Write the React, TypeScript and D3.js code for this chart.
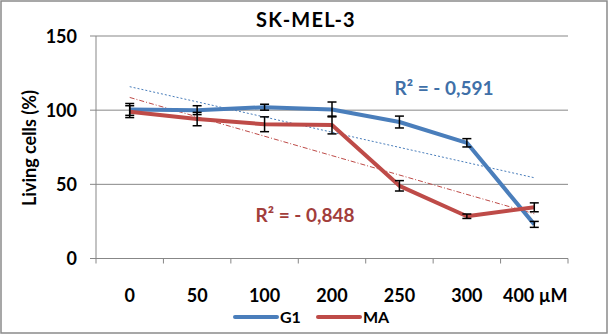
import React from "react";
import * as d3 from "d3";

const categories = ["0", "50", "100", "200", "250", "300", "400 µM"];
const g1Values = [100.5, 100, 102, 100.5, 92, 78, 23];
const g1Errors = [4, 3, 2, 5, 4, 2.8, 2];
const maValues = [99, 94, 90.5, 90, 49, 28.5, 34.5];
const maErrors = [4, 4.5, 5, 6, 3.5, 1.5, 3];
const yTicks = [0, 50, 100, 150];
const seriesNames = ["G1", "MA"];
const r2Labels = ["R² = - 0,591", "R² = - 0,848"];

const W = 609;
const H = 335;
const FONT = "Lato, 'Open Sans', sans-serif";
const BLUE = "#4A7EBB";
const RED = "#BE4B48";

function regression(vals: number[]) {
  const xs = vals.map((_, i) => i + 1);
  const mx = d3.mean(xs)!;
  const my = d3.mean(vals)!;
  let sxy = 0, sxx = 0;
  xs.forEach((x, i) => { sxy += (x - mx) * (vals[i] - my); sxx += (x - mx) * (x - mx); });
  const slope = sxy / sxx;
  return (x: number) => my + slope * (x - mx);
}

export default function App() {
  const x = d3.scaleBand<string>().domain(categories).range([96, 568]);
  const y = d3.scaleLinear().domain([0, 150]).range([258.5, 36]);
  const cx = (i: number) => x(categories[i])! + x.bandwidth() / 2;
  const line = d3.line<number>().x((_, i) => cx(i)).y((v) => y(v));

  const series = [
    { name: seriesNames[0], vals: g1Values, errs: g1Errors, color: BLUE, dash: "2,2" },
    { name: seriesNames[1], vals: maValues, errs: maErrors, color: RED, dash: "5,2,1,2" },
  ];

  return (
    <svg width={W} height={H} style={{ position: "absolute", left: 0, top: 0, background: "#fff" }} fontFamily={FONT}>
      <rect x={1} y={1} width={W - 3} height={H - 3} fill="#fff" stroke="#8a8a8a" strokeWidth={1.5} />
      {yTicks.map((t) => (
        <g key={t}>
          <line x1={90} x2={568} y1={y(t)} y2={y(t)} stroke="#878787" strokeWidth={1} />
          <text x={77} y={y(t) + 6.5} textAnchor="end" fontSize={18} fontWeight="bold" fill="#000">{t}</text>
        </g>
      ))}
      <line x1={96} x2={96} y1={y(150)} y2={y(0)} stroke="#878787" strokeWidth={1} />
      {categories.concat([""]).map((c, i) => {
        const xx = 96 + i * x.bandwidth();
        return <line key={"t" + i} x1={xx} x2={xx} y1={y(0)} y2={y(0) + 5} stroke="#878787" />;
      })}
      {categories.map((c, i) => (
        <text key={c} x={i === categories.length - 1 ? cx(i) + 1 : cx(i)} y={302} textAnchor="middle" fontSize={18} fontWeight="bold" fill="#000">{c}</text>
      ))}
      {series.map((s) => {
        const f = regression(s.vals);
        return (
          <line key={"tr" + s.name} x1={cx(0)} x2={cx(s.vals.length - 1)} y1={y(f(1))} y2={y(f(s.vals.length))}
            stroke={s.color} strokeWidth={1} strokeDasharray={s.dash} />
        );
      })}
      {series.map((s) => (
        <path key={"l" + s.name} d={line(s.vals)!} fill="none" stroke={s.color} strokeWidth={4} strokeLinejoin="round" />
      ))}
      {series.map((s) => (
        <g key={"e" + s.name}>
          {s.vals.map((v, i) => {
            const xx = cx(i);
            const top = y(v + s.errs[i]);
            const bot = y(v - s.errs[i]);
            return (
              <g key={i} stroke="#000" strokeWidth={1.5}>
                <line x1={xx} x2={xx} y1={top} y2={bot} />
                <line x1={xx - 4.5} x2={xx + 4.5} y1={top} y2={top} />
                <line x1={xx - 4.5} x2={xx + 4.5} y1={bot} y2={bot} />
              </g>
            );
          })}
        </g>
      ))}
      <text x={444} y={95} textAnchor="middle" fontSize={19} fontWeight="bold" fill="#4070A8">{r2Labels[0]}</text>
      <text x={305} y={222} textAnchor="middle" fontSize={19} fontWeight="bold" fill="#A23E3B">{r2Labels[1]}</text>
      <text x={306} y={27} textAnchor="middle" fontSize={20} fontWeight="bold" letterSpacing={1.2} fill="#000">SK-MEL-3</text>
      <text transform="translate(36,148) rotate(-90)" textAnchor="middle" fontSize={18} fontWeight="bold" fill="#000">Living cells (%)</text>
      {series.map((s, i) => {
        const lx = 235 + i * 83;
        return (
          <g key={"lg" + s.name}>
            <line x1={lx} x2={lx + 42} y1={317} y2={317} stroke={s.color} strokeWidth={4} strokeLinecap="round" />
            <text x={lx + 45} y={323} fontSize={16} fontWeight="bold" fill="#000">{s.name}</text>
          </g>
        );
      })}
    </svg>
  );
}
